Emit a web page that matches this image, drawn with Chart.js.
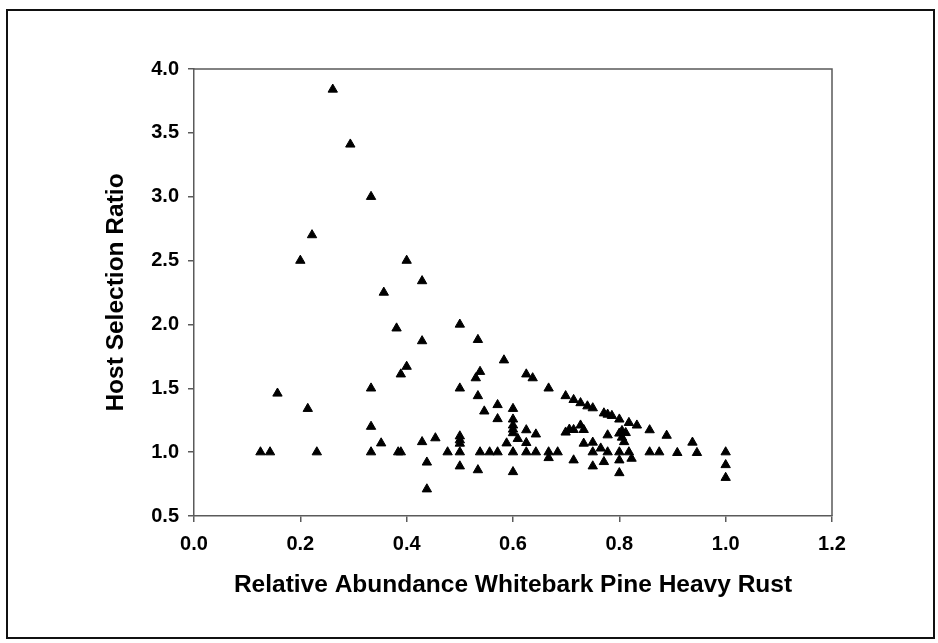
<!DOCTYPE html>
<html>
<head>
<meta charset="utf-8">
<script src="https://cdn.jsdelivr.net/npm/chart.js@4"></script>
<style>
  html, body { margin: 0; padding: 0; background: #fff; }
  #wrap { position: relative; width: 938px; height: 643px; }
  #frame { position: absolute; left: 6px; top: 9px; width: 925px; height: 626px; border: 2px solid #111; pointer-events: none; }
  canvas { position: absolute; left: 0; top: 0; }
</style>
</head>
<body>
<div id="wrap">
  <canvas id="c" width="938" height="643"></canvas>
  <div id="frame"></div>
</div>
<script>
// Data
const xLabel = "Relative Abundance Whitebark Pine Heavy Rust";
const yLabel = "Host Selection Ratio";
const xTicks = [0.0, 0.2, 0.4, 0.6, 0.8, 1.0, 1.2];
const yTicks = [0.5, 1.0, 1.5, 2.0, 2.5, 3.0, 3.5, 4.0];

const abundance = [
  0.261, 0.294, 0.333, 0.222, 0.200, 0.400, 0.429, 0.357, 0.381, 0.429,
  0.400, 0.389, 0.333, 0.157, 0.214, 0.333, 0.352, 0.429, 0.454, 0.125,
  0.143, 0.231, 0.333, 0.384, 0.389, 0.438, 0.438, 0.500, 0.534, 0.583,
  0.538, 0.530, 0.500, 0.534, 0.625, 0.637, 0.667, 0.699, 0.714, 0.727,
  0.740, 0.750, 0.771, 0.778, 0.786, 0.800, 0.818, 0.833, 0.857, 0.889,
  0.9375, 0.546, 0.571, 0.571, 0.600, 0.600, 0.600, 0.600, 0.600, 0.625,
  0.643, 0.609, 0.588, 0.625, 0.500, 0.500, 0.500, 0.477, 0.500, 0.538,
  0.556, 0.571, 0.600, 0.625, 0.643, 0.667, 0.667, 0.684, 0.500, 0.534,
  0.600, 0.699, 0.706, 0.714, 0.727, 0.733, 0.778, 0.800, 0.812, 0.805,
  0.809, 0.733, 0.750, 0.765, 0.714, 0.750, 0.778, 0.800, 0.818, 0.823,
  0.771, 0.800, 0.750, 0.800, 0.857, 0.875, 0.909, 0.946, 1.000, 1.000,
  1.000, 0.805
];
const selectionRatio = [
  3.84, 3.41, 3.00, 2.70, 2.50, 2.50, 2.34, 2.25, 1.97, 1.87,
  1.67, 1.61, 1.50, 1.46, 1.34, 1.20, 1.07, 1.08, 1.11, 1.00,
  1.00, 1.00, 1.00, 1.00, 1.00, 0.92, 0.71, 2.00, 1.88, 1.72,
  1.63, 1.58, 1.50, 1.44, 1.61, 1.58, 1.50, 1.44, 1.41, 1.385,
  1.36, 1.345, 1.305, 1.295, 1.285, 1.257, 1.23, 1.21, 1.173, 1.13,
  1.076, 1.32, 1.37, 1.26, 1.34, 1.257, 1.21, 1.178, 1.15, 1.173,
  1.14, 1.105, 1.07, 1.073, 1.125, 1.094, 1.068, 1.00, 1.00, 1.00,
  1.00, 1.00, 1.00, 1.00, 1.00, 1.00, 0.955, 1.00, 0.89, 0.86,
  0.845, 1.155, 1.178, 1.175, 1.21, 1.175, 1.133, 1.147, 1.151, 1.115,
  1.08, 1.068, 1.076, 1.03, 0.937, 1.00, 1.00, 1.00, 1.00, 0.95,
  0.924, 0.937, 0.89, 0.837, 1.00, 1.00, 0.995, 0.995, 1.00, 0.90,
  0.80, 1.167
];

const points = abundance.map((x, i) => ({ x: x, y: selectionRatio[i] }));

const boxPlugin = {
  id: 'box',
  afterDraw(chart) {
    const { ctx, chartArea: a } = chart;
    ctx.save();
    ctx.strokeStyle = '#5a5a5a';
    ctx.lineWidth = 1.5;
    ctx.beginPath();
    ctx.moveTo(a.left, a.top);
    ctx.lineTo(a.right, a.top);
    ctx.lineTo(a.right, a.bottom);
    ctx.stroke();
    ctx.restore();
  }
};

const tickFont = { family: '"Liberation Sans", Arial, sans-serif', size: 20, weight: 'bold' };
const titleFont = { family: '"Liberation Sans", Arial, sans-serif', size: 24.5, weight: 'bold' };

new Chart(document.getElementById('c'), {
  type: 'scatter',
  data: {
    datasets: [{
      data: points,
      pointStyle: 'triangle',
      pointRadius: 5.4,
      pointHoverRadius: 5.4,
      backgroundColor: '#000',
      borderColor: '#000',
      borderWidth: 1
    }]
  },
  options: {
    responsive: false,
    animation: false,
    events: [],
    layout: { padding: { left: 0, top: 69, right: 106, bottom: 0 } },
    plugins: { legend: { display: false }, tooltip: { enabled: false } },
    scales: {
      x: {
        type: 'linear',
        min: 0, max: 1.2,
        afterBuildTicks: s => { s.ticks = xTicks.map(v => ({ value: v })); },
        afterFit: s => { s.height = 127; },
        ticks: {
          color: '#000', font: tickFont, padding: 10,
          callback: v => v.toFixed(1)
        },
        grid: { display: true, drawOnChartArea: false, drawTicks: true, tickLength: 6, color: '#5a5a5a', lineWidth: 1.5 },
        border: { display: true, color: '#5a5a5a', width: 1.5 },
        title: { display: true, text: xLabel, color: '#000', font: titleFont, padding: { top: 0, bottom: 43 } }
      },
      y: {
        type: 'linear',
        min: 0.5, max: 4.0,
        afterBuildTicks: s => { s.ticks = yTicks.map(v => ({ value: v })); },
        afterFit: s => { s.width = 194; },
        ticks: {
          color: '#000', font: tickFont, padding: 9,
          callback: v => v.toFixed(1)
        },
        grid: { display: true, drawOnChartArea: false, drawTicks: true, tickLength: 6, color: '#5a5a5a', lineWidth: 1.5 },
        border: { display: true, color: '#5a5a5a', width: 1.5 },
        title: { display: true, text: yLabel, color: '#000', font: titleFont, padding: { top: 102, bottom: 0 } }
      }
    }
  },
  plugins: [boxPlugin]
});
</script>
</body>
</html>
